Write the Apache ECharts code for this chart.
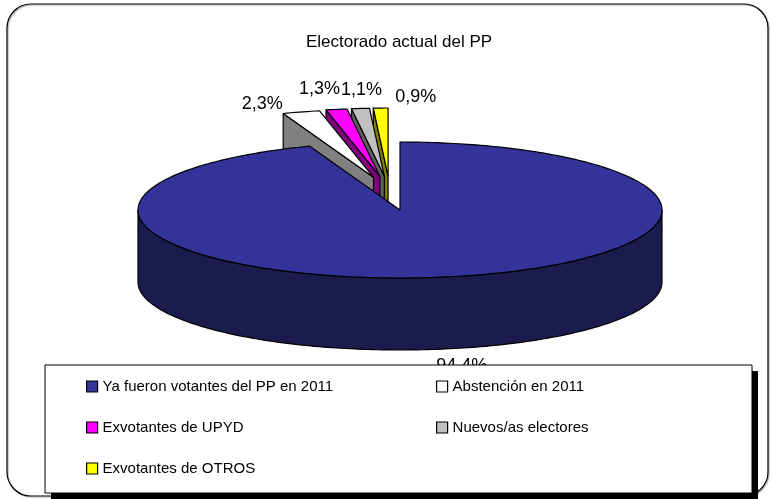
<!DOCTYPE html>
<html lang="es">
<head>
    <meta charset="utf-8">
    <title>Electorado actual del PP</title>
    <script src="https://cdn.jsdelivr.net/npm/echarts@6/dist/echarts.min.js"></script>
    <style>
        html, body { margin: 0; padding: 0; background: #fff; }
    </style>
</head>
<body>
<div id="main" style="width: 772px;height:499px;"></div>

<script type="text/javascript">
    // datos del grafico
    var categories = ['Ya fueron votantes del PP en 2011', 'Abstención en 2011', 'Exvotantes de UPYD', 'Nuevos/as electores', 'Exvotantes de OTROS'];
    var shares = [94.4, 2.3, 1.3, 1.1, 0.9];

    // estilo de cada porcion (cara superior / lateral)
    var topColors = ['#333399', '#FFFFFF', '#FF00FF', '#C0C0C0', '#FFFF00'];
    var sideColors = ['#1B1B4D', '#808080', '#800080', '#606060', '#808000'];
    var exploded = [false, true, true, true, true];
    var labelNudge = [[16, 89], [-39, -8], [-17, -20], [1, -18], [35, -11]];

    // geometria de la tarta 3D
    var CX = 400, CY = 210, RX = 262, RY = 68, DEPTH = 72;
    var EXPLODE_X = 60.5, EXPLODE_Y = 34, SHEAR = 0.3;

    var total = shares.reduce(function (a, b) { return a + b; }, 0);
    var starts = [];
    var acc = 0;
    shares.forEach(function (v) { starts.push(acc); acc += v; });

    function pt(deg, ox, oy, dz) {
        var r = deg * Math.PI / 180;
        return [CX + RX * Math.sin(r) + ox, CY - RY * Math.cos(r) + oy + dz];
    }

    function arc(a, b, ox, oy, dz) {
        var n = Math.max(2, Math.ceil(Math.abs(b - a)));
        var pts = [];
        for (var k = 0; k <= n; k++) {
            pts.push(pt(a + (b - a) * k / n, ox, oy, dz));
        }
        return pts;
    }

    function fmt(v) {
        return v.toFixed(1).replace('.', ',') + '%';
    }

    function makeRender(i) {
        return function (params, api) {
            var a = api.value(0) / total * 360;
            var b = api.value(1) / total * 360;
            var m = (a + b) / 2;
            var mr = m * Math.PI / 180;
            var ox = 0, oy = 0;
            if (exploded[i]) {
                oy = -EXPLODE_Y * Math.cos(mr);
                ox = EXPLODE_X * Math.sin(mr) + SHEAR * oy;
            }
            var edge = { stroke: '#000', lineWidth: 1.2, lineJoin: 'round' };
            var children = [];
            var apex = [CX + ox, CY + oy];
            var apexLow = [CX + ox, CY + oy + DEPTH];

            // cara de corte inicial
            if (Math.cos((a - 90) * Math.PI / 180) < -0.05) {
                var p1 = pt(a, ox, oy, 0), p2 = pt(a, ox, oy, DEPTH);
                children.push({
                    type: 'polygon',
                    shape: { points: [apex, p1, p2, apexLow] },
                    style: Object.assign({ fill: sideColors[i] }, edge)
                });
            }
            // cara exterior visible (frontal)
            var fa = Math.max(a, 90), fb = Math.min(b, 270);
            if (fb > fa) {
                var up = arc(fa, fb, ox, oy, 0);
                var down = arc(fb, fa, ox, oy, DEPTH);
                children.push({
                    type: 'polygon',
                    shape: { points: up.concat(down) },
                    style: Object.assign({ fill: sideColors[i] }, edge)
                });
            }
            // cara superior
            children.push({
                type: 'polygon',
                shape: { points: [apex].concat(arc(a, b, ox, oy, 0)) },
                style: Object.assign({ fill: topColors[i] }, edge)
            });
            // etiqueta
            var lp = pt(m, ox, oy, 0);
            children.push({
                type: 'text',
                x: lp[0] + labelNudge[i][0],
                y: lp[1] + labelNudge[i][1],
                style: {
                    text: fmt(api.value(1) - api.value(0)),
                    fill: '#000',
                    font: '18px "Liberation Sans", Arial, sans-serif',
                    align: 'center',
                    verticalAlign: 'middle'
                }
            });
            return { type: 'group', children: children };
        };
    }

    var myChart = echarts.init(document.getElementById('main'));

    // porciones del fondo primero, la grande al final
    var series = [];
    for (var i = categories.length - 1; i >= 0; i--) {
        series.push({
            type: 'custom',
            name: categories[i],
            coordinateSystem: 'none',
            silent: true,
            itemStyle: { color: topColors[i] },
            data: [[starts[i], starts[i] + shares[i]]],
            renderItem: makeRender(i)
        });
    }

    function legendItem(i) {
        return {
            name: categories[i],
            icon: 'rect',
            itemStyle: { color: topColors[i], borderColor: '#000', borderWidth: 1.2 }
        };
    }

    var legendText = { fontSize: 15, fontFamily: 'Liberation Sans', color: '#000' };

    var option = {
        animation: false,
        backgroundColor: '#fff',
        title: {
            text: 'Electorado actual del PP',
            left: 394,
            textAlign: 'center',
            top: 29,
            textStyle: { fontSize: 17, fontWeight: 'normal', fontFamily: 'Liberation Sans', color: '#000' }
        },
        legend: [{
            left: 86, top: 379, orient: 'vertical', padding: 0,
            itemGap: 26, itemWidth: 11, itemHeight: 11, selectedMode: false, z: 60,
            textStyle: legendText,
            data: [legendItem(0), legendItem(2), legendItem(4)]
        }, {
            left: 436, top: 379, orient: 'vertical', padding: 0,
            itemGap: 26, itemWidth: 11, itemHeight: 11, selectedMode: false, z: 60,
            textStyle: legendText,
            data: [legendItem(1), legendItem(3)]
        }],
        graphic: [{
            type: 'rect', z: 0, silent: true,
            shape: { x: 7, y: 4, width: 761, height: 492, r: 24 },
            style: { fill: 'none', stroke: '#000', lineWidth: 1.2, shadowColor: 'rgba(0,0,0,0.35)', shadowOffsetX: 1, shadowOffsetY: 1, shadowBlur: 1 }
        }, {
            type: 'rect', z: 49, silent: true,
            shape: { x: 51, y: 371, width: 707, height: 128 },
            style: { fill: '#000' }
        }, {
            type: 'rect', z: 50, silent: true,
            shape: { x: 45, y: 365, width: 707, height: 128 },
            style: { fill: '#fff', stroke: '#000', lineWidth: 1 }
        }],
        series: series
    };

    option && myChart.setOption(option);
</script>
</body>
</html>
